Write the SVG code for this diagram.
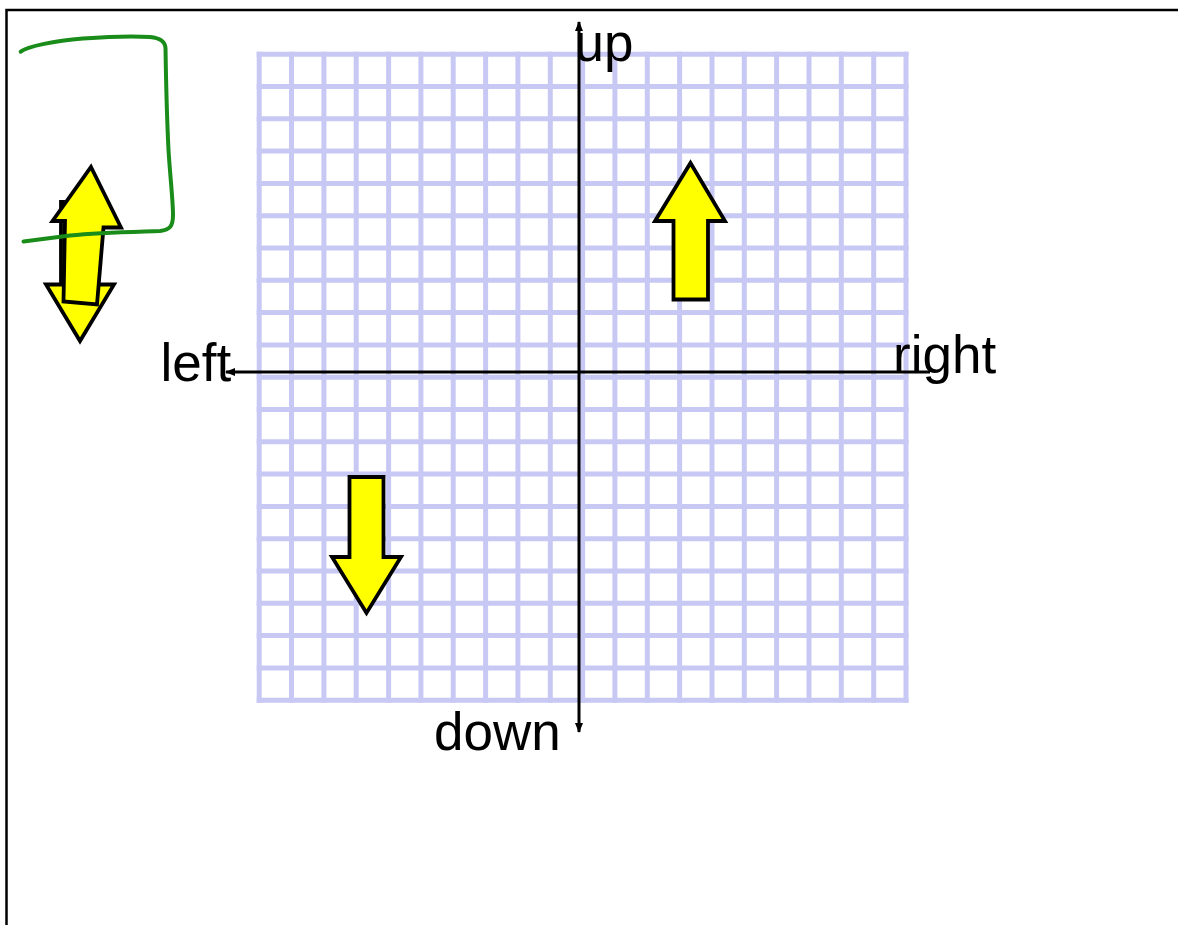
<svg xmlns="http://www.w3.org/2000/svg" width="1178" height="925" viewBox="0 0 1178 925">
<style>
.grid{stroke:#c8c8f4;stroke-width:5;fill:none}
.axis{stroke:#000;stroke-width:3;fill:none}
.lbl{font-family:"Liberation Sans",Arial,sans-serif;font-size:53px;fill:#000}
.yarrow{fill:#ffff00;stroke:#000;stroke-width:3.8;stroke-linejoin:miter}
.ink{fill:none;stroke:#1a8c1a;stroke-width:4;stroke-linecap:round;stroke-linejoin:round}
</style>
<defs>
<marker id="ah" viewBox="0 0 10 8" refX="9" refY="4" markerWidth="10" markerHeight="8" markerUnits="userSpaceOnUse" orient="auto">
<path d="M0,0 L10,4 L0,8 Z" fill="#000"/>
</marker>
</defs>
<rect width="1178" height="925" fill="#fff"/>
<path d="M6.5,925 V10 H1178" fill="none" stroke="#000" stroke-width="2.5"/>
<g id="grid" class="grid">
<path d="M259.2,51.7V702.7M291.5,51.7V702.7M323.9,51.7V702.7M356.2,51.7V702.7M388.6,51.7V702.7M420.9,51.7V702.7M453.2,51.7V702.7M485.6,51.7V702.7M517.9,51.7V702.7M550.3,51.7V702.7M582.6,51.7V702.7M614.9,51.7V702.7M647.3,51.7V702.7M679.6,51.7V702.7M712,51.7V702.7M744.3,51.7V702.7M776.6,51.7V702.7M809,51.7V702.7M841.3,51.7V702.7M873.7,51.7V702.7M906,51.7V702.7"/>
<path d="M256.7,54.2H908.5M256.7,86.5H908.5M256.7,118.8H908.5M256.7,151.1H908.5M256.7,183.4H908.5M256.7,215.7H908.5M256.7,248H908.5M256.7,280.3H908.5M256.7,312.6H908.5M256.7,344.9H908.5M256.7,377.2H908.5M256.7,409.5H908.5M256.7,441.8H908.5M256.7,474.1H908.5M256.7,506.4H908.5M256.7,538.7H908.5M256.7,571H908.5M256.7,603.3H908.5M256.7,635.6H908.5M256.7,667.9H908.5M256.7,700.2H908.5"/>
</g>
<g id="connectors">
<line class="axis" x1="579" y1="372" x2="579" y2="22" marker-end="url(#ah)"/>
<line class="axis" x1="579" y1="372" x2="579" y2="732" marker-end="url(#ah)"/>
<line class="axis" x1="579" y1="372" x2="226" y2="372" marker-end="url(#ah)"/>
<line class="axis" x1="579" y1="372" x2="930" y2="372"/>
</g>
<g id="label-up"><text class="lbl" x="574.5" y="61">up</text></g>
<g id="label-left"><text class="lbl" x="160.5" y="381">left</text></g>
<g id="label-right"><text class="lbl" x="893" y="373">right</text></g>
<g id="label-down"><text class="lbl" x="434" y="750">down</text></g>
<g id="arrow-up-right">
<polygon class="yarrow" points="690.5,163 725,221 708,221 708,299.5 673.5,299.5 673.5,221 655,221"/>
</g>
<g id="arrow-down-left">
<polygon class="yarrow" points="349.5,477 383.5,477 383.5,557 401,557 366.5,613 332,557 349.5,557"/>
</g>
<g id="arrow-down-small">
<polygon class="yarrow" points="61,202 97,202 97,284.5 114,284.5 80,341 46,284.5 61,284.5"/>
</g>
<g id="arrow-up-small">
<polygon class="yarrow" points="91,167 121,227.5 103.5,227.5 97,304.5 63.5,301.5 65,221 52.5,221"/>
</g>
<g id="green-stroke">
<path class="ink" d="M20.7,51.7 C28,46 55,41 83,38.5 C110,36.5 135,36 150,37 C160,38 165,41 165.5,48 C166,80 167,120 168.5,150 C170,175 173,200 173,215 C173,226 170,230 160,231 C130,232 100,232.5 70,235.5 C50,238 35,240 23.5,241.5"/>
</g>
</svg>
